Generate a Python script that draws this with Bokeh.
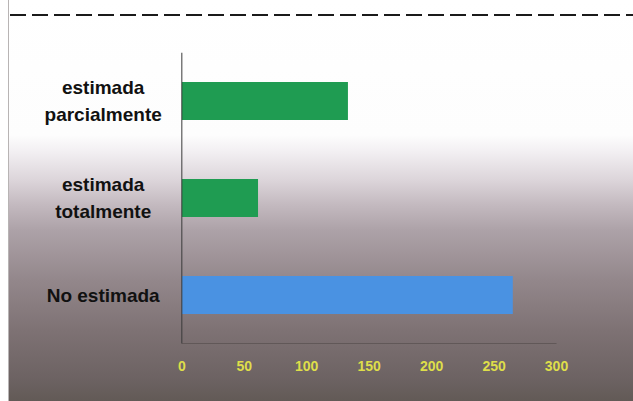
from bokeh.plotting import figure
from bokeh.models import FactorRange, FixedTicker, Span
from bokeh.core.properties import value
from bokeh.embed import file_html
from bokeh.resources import INLINE

# Categories (bottom to top) and their counts
categories = ["No estimada", "estimada\ntotalmente", "estimada\nparcialmente"]
counts = [265, 61, 133]
bar_colors = ["#4a92e2", "#1f9c52", "#1f9c52"]
x_ticks = [0, 50, 100, 150, 200, 250, 300]

W, H = 633, 401
X_MIN, X_MAX = -138, 300   # negative side holds the category labels
LABEL_X = -63              # centre of the category labels

# Page background: white margin on the left, a dashed rule at the top and a
# white-to-taupe vertical gradient behind the chart.
background = ", ".join([
    "repeating-linear-gradient(to right, #1a1a1a 0px, #1a1a1a 16px, transparent 16px, transparent 22px)",
    "linear-gradient(to right, #ffffff 0px, #ffffff 8px, #b8b4b4 8px, #b8b4b4 9px, transparent 9px)",
    "linear-gradient(to bottom, #ffffff 0px, #fdfdfd 135px, #f2eff2 152px, #dcd5da 180px, "
    "#c3b9bf 205px, #ada2a8 230px, #93878b 280px, #7e7274 330px, #6c6262 380px, #625a56 401px)",
])

p = figure(
    width=W, height=H,
    y_range=FactorRange(*categories, range_padding=0),
    x_range=(X_MIN, X_MAX),
    output_backend="svg", toolbar_location=None,
    min_border_left=9, min_border_right=77,
    min_border_top=52, min_border_bottom=58,
    border_fill_color=None, background_fill_color=None,
    outline_line_color=None,
    styles={
        "background-image": background,
        "background-size": "100% 2px, 100% 100%, 100% 100%",
        "background-position": "10px 14px, 0 0, 0 0",
        "background-repeat": "no-repeat",
    },
)

p.hbar(y=categories, right=counts, left=0, height=0.39,
       fill_color=bar_colors, line_color=None)

p.xgrid.visible = False
p.ygrid.visible = False
p.yaxis.visible = False

# Category axis line at zero
p.add_layout(Span(location=0, dimension="height", line_color="#3a3a3a", line_width=1))

# Centred, two-line category labels to the left of the axis
p.text(x=[LABEL_X] * len(categories), y=categories, text=categories,
       text_align="center", text_baseline="middle",
       text_font=value("Liberation Sans"), text_font_style="bold",
       text_font_size="19px", text_color="#111111", text_line_height=1.3)

# Value axis
xa = p.xaxis[0]
xa.ticker = FixedTicker(ticks=x_ticks)
xa.bounds = (0, 300)
xa.axis_line_color = "#4a4242"
xa.axis_line_alpha = 0.5
xa.major_tick_line_color = None
xa.minor_tick_line_color = None
xa.major_label_text_color = "#dede4a"
xa.major_label_text_font = "Liberation Sans"
xa.major_label_text_font_style = "bold"
xa.major_label_text_font_size = "14px"
xa.major_label_standoff = 11

open("out.html", "w").write(file_html(p, INLINE))
